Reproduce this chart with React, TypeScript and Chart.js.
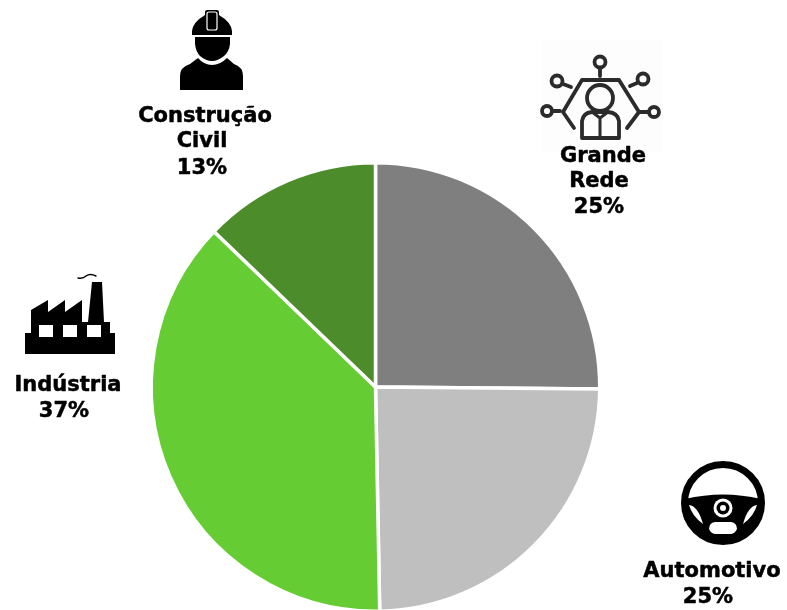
import React, { useEffect, useRef } from "react";
import { Chart, registerables } from "chart.js";

Chart.register(...registerables);

const categories = ["Grande Rede", "Automotivo", "Indústria", "Construção Civil"];
const sliceValues = [25.14, 24.56, 37.5, 12.8];
const sliceColors = ["#7F7F7F", "#BFBFBF", "#66CC33", "#4C8C2B"];
const labelLines = [
  [["Construção", 205, 117], ["Civil", 202, 142], ["13%", 202, 169]],
  [["Grande", 603, 157], ["Rede", 599, 182], ["25%", 599, 208]],
  [["Indústria", 68, 386], ["37%", 64, 412]],
  [["Automotivo", 712, 572], ["25%", 708, 598]],
] as [string, number, number][][];

function fillP(ctx: CanvasRenderingContext2D, d: string, c = "#000") {
  ctx.fillStyle = c;
  ctx.fill(new Path2D(d));
}
function strokeP(ctx: CanvasRenderingContext2D, d: string, c: string, w: number) {
  ctx.strokeStyle = c;
  ctx.lineWidth = w;
  ctx.lineCap = "round";
  ctx.lineJoin = "round";
  ctx.stroke(new Path2D(d));
}
function circle(ctx: CanvasRenderingContext2D, x: number, y: number, r: number, c: string) {
  ctx.fillStyle = c;
  ctx.beginPath();
  ctx.arc(x, y, r, 0, Math.PI * 2);
  ctx.fill();
}
function ring(ctx: CanvasRenderingContext2D, x: number, y: number, r: number, c: string, w: number) {
  ctx.strokeStyle = c;
  ctx.lineWidth = w;
  ctx.beginPath();
  ctx.arc(x, y, r, 0, Math.PI * 2);
  ctx.stroke();
}

function drawWorker(ctx: CanvasRenderingContext2D) {
  fillP(ctx, "M192 35 L192 31 Q193 22 205 15 L205 12 Q205 10 207 10 L217 10 Q219 10 219 12 L219 15 Q231 22 232 31 L232 35 Z");
  strokeP(ctx, "M207 14 Q207 12 209 12 L215 12 Q217 12 217 14 L217 28 Q217 30 215 30 L209 30 Q207 30 207 28 Z", "#fff", 1.2);
  fillP(ctx, "M195 37 L230 37 L230 44 Q229 52 224 56 Q218 61 212 61 Q206 61 200 56 Q196 52 195 44 Z");
  fillP(ctx, "M180 90 L180 76 Q180 67 190 64 L198 58 Q204 65 212 65 Q220 65 227 58 L234 64 Q243 67 243 76 L243 90 Z");
}

function drawNetwork(ctx: CanvasRenderingContext2D) {
  const ink = "#2b2b2b";
  const w = 3.8;
  ctx.fillStyle = "#fdfdfd";
  ctx.fillRect(541, 40, 122, 112);
  ring(ctx, 600, 62, 5.5, ink, w);
  ring(ctx, 557, 81, 5.5, ink, w);
  ring(ctx, 643, 79, 5.5, ink, w);
  ring(ctx, 547, 111, 5, ink, w);
  ring(ctx, 654, 112, 5, ink, w);
  strokeP(ctx, "M600 68 L600 76 M563 84 L571 87 M637 83 L630 86 M553 111 L560 111 M648 112 L640 112", ink, w);
  strokeP(ctx, "M574 128 L563 112 L582 80 L619 80 L639 112 L627 128", ink, w);
  ring(ctx, 600, 98, 13, ink, w);
  strokeP(ctx, "M582 138 L582 121 Q583 113 592 112 L608 112 Q618 113 619 121 L619 138 Z", ink, w);
  strokeP(ctx, "M592 112 L600 118 L608 112 M600 118 L600 138", ink, w - 0.8);
}

function drawFactory(ctx: CanvasRenderingContext2D) {
  fillP(ctx, "M25 354 L25 333 L31 333 L31 310 L48 300 L48 312 L65 300 L65 312 L82 300 L82 322 L88 322 L92 282 L102 282 L104 322 L110 322 L110 333 L115 333 L115 354 Z");
  ctx.fillStyle = "#fff";
  ctx.fillRect(39, 325, 14, 12);
  ctx.fillRect(63, 325, 14, 12);
  ctx.fillRect(87, 325, 14, 12);
  strokeP(ctx, "M78 278 Q83 279 86 276 Q90 273 96 276", "#000", 1.4);
}

function drawWheel(ctx: CanvasRenderingContext2D) {
  const cx = 723;
  const cy = 503;
  ring(ctx, cx, cy, 38.5, "#000", 7);
  ctx.save();
  ctx.beginPath();
  ctx.arc(cx, cy, 38, 0, Math.PI * 2);
  ctx.clip();
  fillP(ctx, "M685 499 Q723 490 761 499 L761 545 L685 545 Z");
  ctx.restore();
  fillP(ctx, "M689 505 Q698 506 703 524 Q692 516 689 505 Z", "#fff");
  fillP(ctx, "M757 505 Q748 506 743 524 Q754 516 757 505 Z", "#fff");
  fillP(ctx, "M715 522 L731 522 Q737 523 737 529 Q735 534 730 534 L716 534 Q711 534 709 529 Q709 523 715 522 Z", "#fff");
  circle(ctx, cx, 508, 9.5, "#fff");
  circle(ctx, cx, 508, 6.5, "#000");
  circle(ctx, cx, 508, 3, "#fff");
}

const decorations = {
  id: "decorations",
  afterDraw(chart: Chart) {
    const ctx = chart.ctx;
    ctx.save();
    drawWorker(ctx);
    drawNetwork(ctx);
    drawFactory(ctx);
    drawWheel(ctx);
    ctx.fillStyle = "#000";
    ctx.strokeStyle = "#000";
    ctx.lineWidth = 0.5;
    ctx.font = 'bold 21px "DejaVu Sans"';
    ctx.textAlign = "center";
    ctx.textBaseline = "middle";
    for (const group of labelLines) {
      for (const [text, x, y] of group) {
        ctx.fillText(text, x, y);
        ctx.strokeText(text, x, y);
      }
    }
    ctx.restore();
  },
};

export default function App() {
  const ref = useRef<HTMLCanvasElement>(null);
  useEffect(() => {
    document.body.style.margin = "0";
    const chart = new Chart(ref.current!, {
      type: "pie",
      data: {
        labels: categories,
        datasets: [
          {
            data: sliceValues,
            backgroundColor: sliceColors,
            borderColor: "#ffffff",
            borderWidth: 3.5,
          },
        ],
      },
      options: {
        responsive: false,
        animation: false,
        layout: { padding: { left: 149.5, right: 185.5, top: 161, bottom: 27 } },
        plugins: { legend: { display: false }, tooltip: { enabled: false } },
      },
      plugins: [decorations],
    });
    return () => chart.destroy();
  }, []);
  return (
    <div style={{ width: 787, height: 610, overflow: "hidden" }}>
      <canvas ref={ref} width={787} height={640} style={{ display: "block" }} />
    </div>
  );
}
